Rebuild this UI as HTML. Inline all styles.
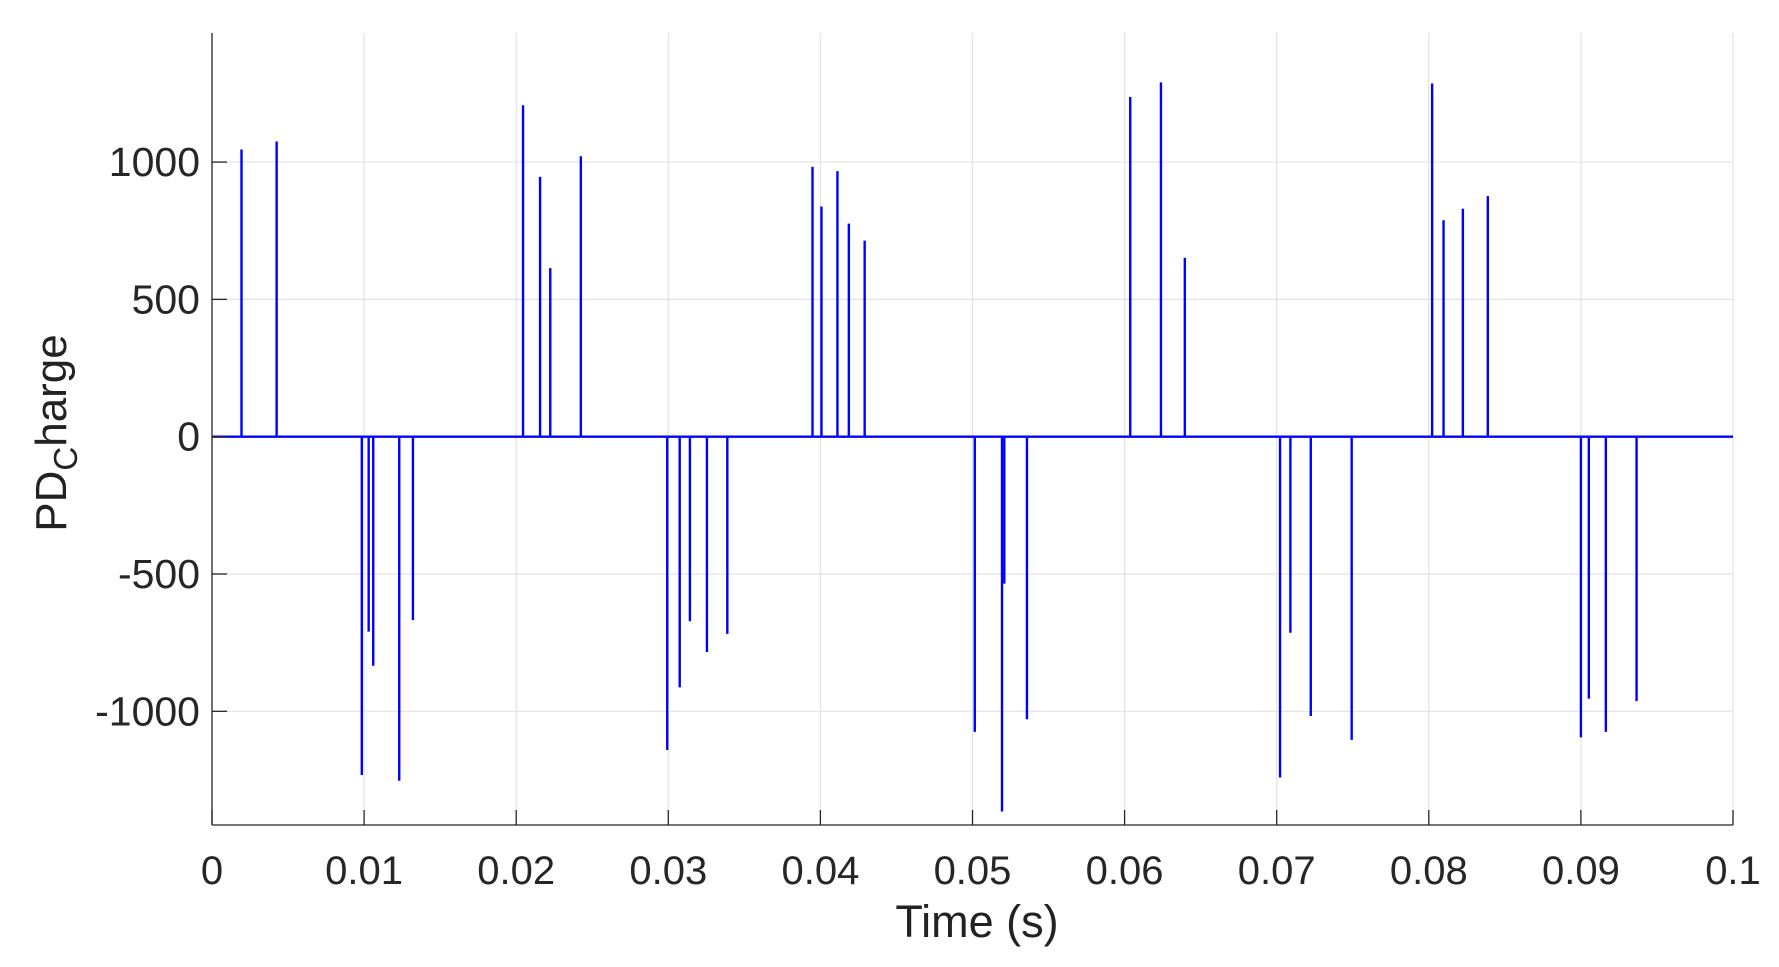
<!DOCTYPE html>
<html><head><meta charset="utf-8"><style>
html,body{margin:0;padding:0;background:#fff;}
svg{display:block;font-family:"Liberation Sans",Arial,sans-serif;}
</style></head><body>
<svg id="chart" width="1779" height="967">
<g id="grid"></g>
<g id="series"></g>
<g id="axes"></g>
<text x="977" y="937" font-size="45" text-anchor="middle" fill="#222">Time (s)</text>
<text transform="translate(66,433) rotate(-90)" font-size="44" text-anchor="middle" fill="#222">PD<tspan font-size="33" dy="11">C</tspan><tspan dy="-11">harge</tspan></text>
</svg>
<script>
const xTicks=[0,0.01,0.02,0.03,0.04,0.05,0.06,0.07,0.08,0.09,0.1];
const xTickLabels=["0","0.01","0.02","0.03","0.04","0.05","0.06","0.07","0.08","0.09","0.1"];
const yTicks=[-1000,-500,0,500,1000];
const yTickLabels=["-1000","-500","0","500","1000"];
const spikeTimes=[0.00194,0.00425,0.00985,0.0103,0.0106,0.01231,0.01321,0.02045,0.02157,0.02224,0.02425,0.02993,0.03075,0.03142,0.03254,0.03388,0.03948,0.04007,0.04112,0.04187,0.04291,0.05015,0.05194,0.05209,0.05358,0.06037,0.06239,0.06396,0.07022,0.0709,0.07224,0.07493,0.08022,0.08097,0.08224,0.08388,0.09,0.09052,0.09164,0.09366];
const spikeValues=[1046,1075,-1232,-710,-834,-1253,-668,1207,946,614,1021,-1141,-913,-672,-784,-718,983,838,967,776,714,-1075,-1365,-535,-1029,1237,1290,651,-1241,-714,-1017,-1104,1286,788,830,876,-1095,-954,-1075,-963];
const L=212,R=1733,T=33,B=825;
const yMax=1470,yMin=-1414;
function X(t){return L+(t-0)/(0.1-0)*(R-L);}
function Y(v){return T+(yMax-v)/(yMax-yMin)*(B-T);}
const NS="http://www.w3.org/2000/svg";
function mk(tag,attrs,parent){const e=document.createElementNS(NS,tag);for(const k in attrs)e.setAttribute(k,attrs[k]);parent.appendChild(e);return e;}
const grid=document.getElementById('grid'),series=document.getElementById('series'),axes=document.getElementById('axes');
xTicks.forEach((t,i)=>{
  const g=mk('line',{x1:X(t),x2:X(t),y1:T,y2:B,stroke:'#e3e3e3','stroke-width':1.2},grid);
  
  
  const tk=mk('line',{x1:X(t),x2:X(t),y1:B,y2:B-15,stroke:'#262626','stroke-width':1.3},axes);
  
  
  const lb=mk('text',{x:X(t),y:884,'font-size':40,'text-anchor':'middle',fill:'#262626'},axes);
  lb.textContent=xTickLabels[i];
  
  
});
yTicks.forEach((v,i)=>{
  const g=mk('line',{x1:L,x2:R,y1:Y(v),y2:Y(v),stroke:'#e3e3e3','stroke-width':1.2},grid);
  
  
  const tk=mk('line',{x1:L,x2:L+15,y1:Y(v),y2:Y(v),stroke:'#262626','stroke-width':1.3},axes);
  
  
  const lb=mk('text',{x:200,y:Y(v)+14,'font-size':41,'text-anchor':'end',fill:'#262626'},axes);
  lb.textContent=yTickLabels[i];
  
  
});
const base=mk('line',{x1:L,x2:R,y1:Y(0),y2:Y(0),stroke:'#0000ff','stroke-width':2.4},series);


spikeTimes.forEach((t,i)=>{
  const s=mk('line',{x1:X(t),x2:X(t),y1:Y(0),y2:Y(spikeValues[i]),stroke:'#0000ff','stroke-width':2.4},series);
  
  
});
const ax=mk('line',{x1:L,x2:L,y1:T,y2:B,stroke:'#262626','stroke-width':1.3},axes);


const bx=mk('line',{x1:L,x2:R,y1:B,y2:B,stroke:'#262626','stroke-width':1.3},axes);


</script>
</body></html>
